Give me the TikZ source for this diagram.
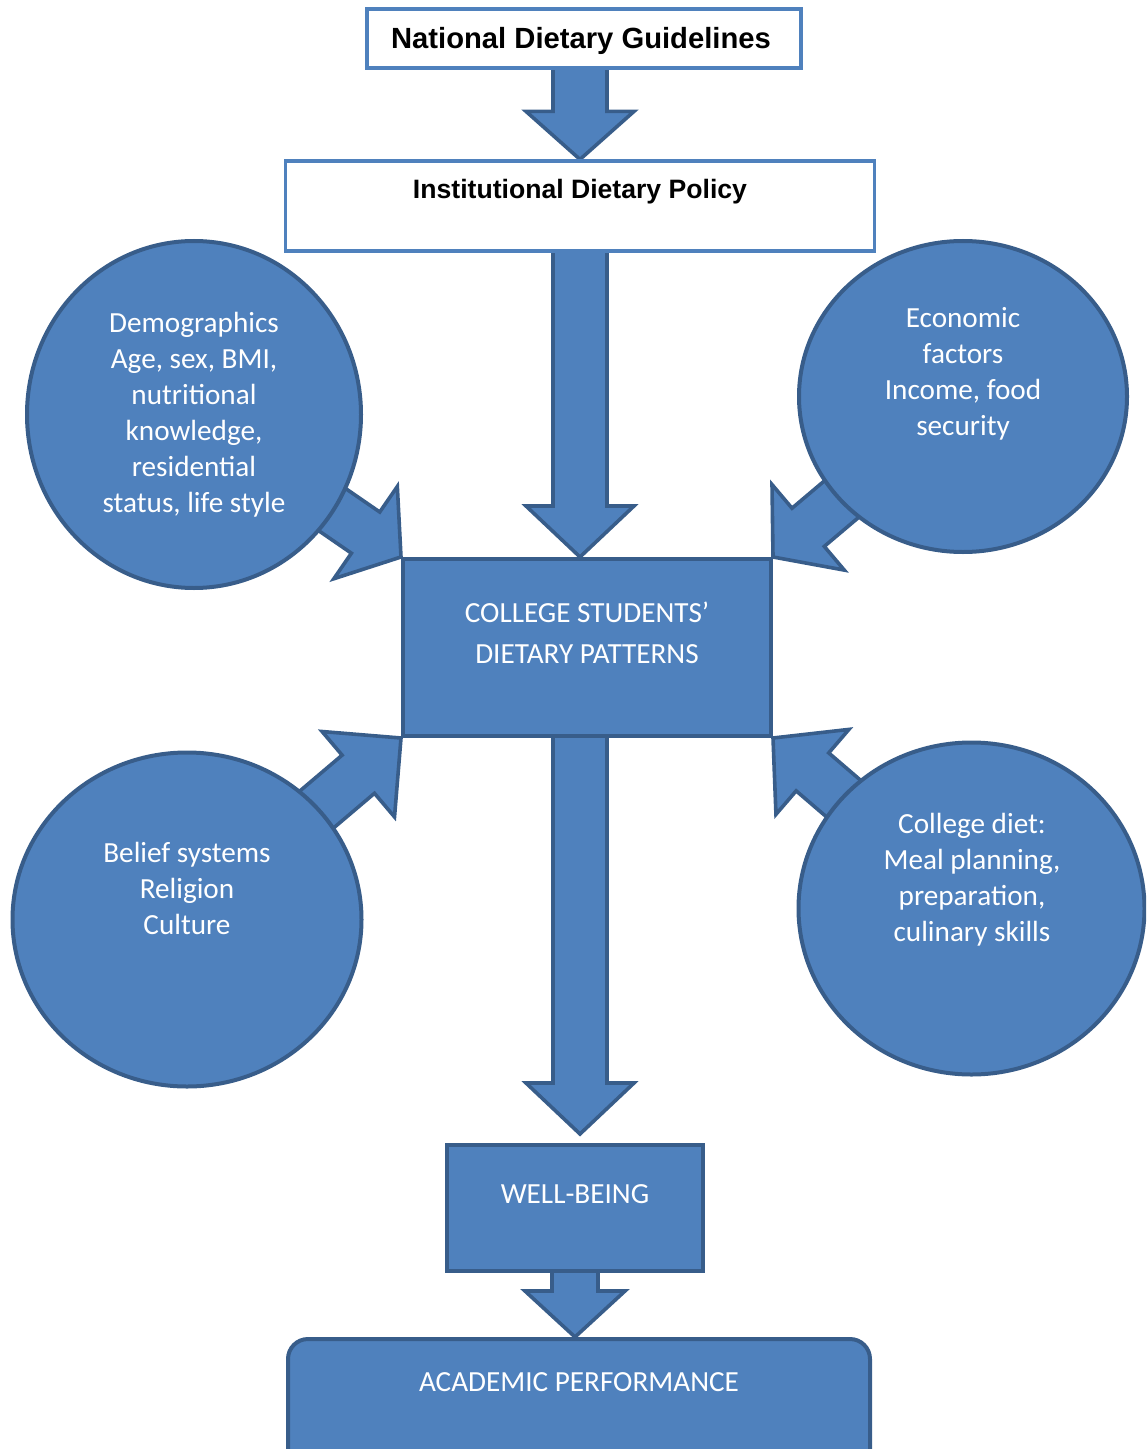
\documentclass[tikz,border=0pt]{standalone}
\usepackage{fontspec}
\setmainfont{Carlito}
\newfontfamily\headfont{Liberation Sans}
\usetikzlibrary{shapes.geometric,calc,backgrounds}

\definecolor{boxblue}{HTML}{4F81BD}
\definecolor{edgeblue}{HTML}{385D8A}

\tikzset{
  arrowbody/.style={fill=boxblue, draw=edgeblue, line width=1.8pt, line join=miter},
  whitebox/.style={rectangle, draw=boxblue, fill=white, line width=1.6pt, inner sep=0pt},
  bluebox/.style={rectangle, draw=edgeblue, fill=boxblue, line width=2pt, inner sep=0pt},
  bubble/.style={ellipse, draw=edgeblue, fill=boxblue, line width=2pt, inner sep=0pt},
  bodytext/.style={text=white, align=center, inner sep=0pt, font=\fontsize{14.6}{18}\selectfont},
  headtext/.style={inner sep=0pt, font=\headfont\bfseries\fontsize{14.6}{17}\selectfont},
}

% Block arrow: #1 tail, #2 tip, #3 shaft half-width, #4 head half-width, #5 head length
\newcommand{\blockarrow}[5]{%
  \path ($(#2)!#5!(#1)$) coordinate (ba-base);
  \draw[arrowbody]
    ($(#1)!#3!90:(#2)$) -- ($(ba-base)!#3!90:(#2)$) -- ($(ba-base)!#4!90:(#2)$)
    -- (#2)
    -- ($(ba-base)!#4!-90:(#2)$) -- ($(ba-base)!#3!-90:(#2)$) -- ($(#1)!#3!-90:(#2)$)
    -- cycle;
}

\begin{document}
\begin{tikzpicture}[x=0.5pt, y=-0.5pt]
\useasboundingbox (0,0) rectangle (1146,1449);
\clip (0,0) rectangle (1146,1449);

% policy boxes
\node[whitebox, minimum width=217pt, minimum height=29.5pt] (ndg) at (584,38.5) {};
\node[headtext] (ndgtext) at (581,41) {National Dietary Guidelines};
\node[whitebox, minimum width=294.5pt, minimum height=45pt] (idp) at (580,206) {};
\node[headtext, font=\headfont\bfseries\fontsize{13.3}{16}\selectfont] (idptext) at (580,191.5)
  {Institutional Dietary Policy};

% influencing factors
\node[bubble, minimum width=167pt, minimum height=173.5pt] (demo) at (194,414.5) {};
\node[bodytext] (demotext) at (194,415)
  {Demographics\\Age, sex, BMI,\\nutritional\\knowledge,\\residential\\status, life style};

\node[bubble, minimum width=164pt, minimum height=155.5pt] (econ) at (963,396.5) {};
\node[bodytext] (econtext) at (963,374)
  {Economic\\factors\\Income, food\\security};

\node[bubble, minimum width=174.5pt, minimum height=167pt] (belief) at (187,919.5) {};
\node[bodytext] (belieftext) at (187,888)
  {Belief systems\\Religion\\Culture};

\node[bubble, minimum width=173pt, minimum height=166pt] (cdiet) at (971.5,908.5) {};
\node[bodytext] (cdiettext) at (972,879.5)
  {College diet:\\Meal planning,\\preparation,\\culinary skills};

% central box and outcomes
\node[bluebox, minimum width=184pt, minimum height=88.5pt] (dp) at (587,647.5) {};
\node[bodytext, font=\fontsize{14.6}{20.5}\selectfont] (dptext) at (587,633)
  {COLLEGE STUDENTS’\\DIETARY PATTERNS};

\node[bluebox, minimum width=128pt, minimum height=63pt] (well) at (575,1208) {};
\node[bodytext] (welltext) at (575,1194) {WELL-BEING};

\node[bluebox, rounded corners=10pt, minimum width=291pt, minimum height=75pt, anchor=north]
  (acad) at (579,1337) {};
\node[bodytext] (acadtext) at (579,1382) {ACADEMIC PERFORMANCE};

% arrow end points
\coordinate (a1tail) at (idp.center |- ndg.center);
\coordinate (a1tip) at (idp.north);
\coordinate (a2tip) at (idp.center |- dp.north);
\coordinate (a3tail) at (idp.center |- dp.center);
\coordinate (a3tip) at ($(idp.center |- well.north)+(0,-9)$);
\coordinate (a4tip) at (well.center |- acad.north);

\begin{scope}[on background layer]
  \blockarrow{a1tail}{a1tip}{13.5pt}{27pt}{24pt}
  \blockarrow{idp.center}{a2tip}{13.5pt}{27pt}{25.5pt}
  \blockarrow{a3tail}{a3tip}{13.5pt}{27pt}{25.5pt}
  \blockarrow{well.center}{a4tip}{11.5pt}{25pt}{23pt}
  \blockarrow{demo.center}{dp.north west}{12.5pt}{28pt}{21.5pt}
  \blockarrow{econ.center}{dp.north east}{12.5pt}{28pt}{23pt}
  \blockarrow{belief.center}{dp.south west}{12.5pt}{28pt}{28pt}
  \blockarrow{cdiet.center}{dp.south east}{12.5pt}{28pt}{26pt}
\end{scope}
\end{tikzpicture}
\end{document}
